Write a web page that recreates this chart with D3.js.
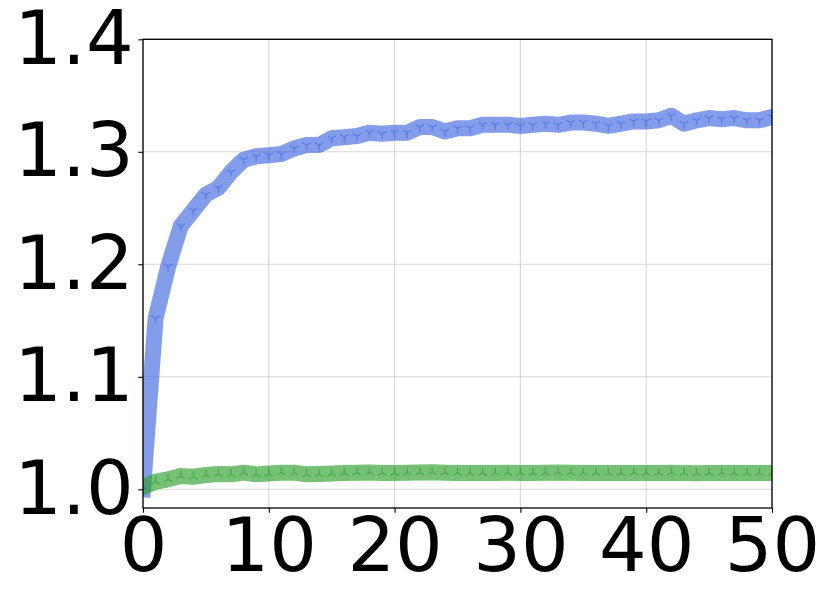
<!DOCTYPE html>
<html>
<head>
<meta charset="utf-8">
<script src="https://cdn.jsdelivr.net/npm/d3@7"></script>
<style>
  body { margin: 0; background: #fff; }
  svg { display: block; }
  text { font-family: "DejaVu Sans", sans-serif; }
</style>
</head>
<body>
<svg id="chart" width="831" height="603"></svg>
<script>
// ---- data ----
const xValues = d3.range(0, 51);
const blueValues = [
  1.000, 1.152, 1.198, 1.234, 1.248, 1.262, 1.268, 1.282, 1.293, 1.296,
  1.297, 1.298, 1.303, 1.306, 1.306, 1.312, 1.313, 1.314, 1.317, 1.316,
  1.317, 1.317, 1.322, 1.322, 1.318, 1.321, 1.321, 1.324, 1.324, 1.324,
  1.323, 1.324, 1.325, 1.324, 1.326, 1.326, 1.325, 1.323, 1.325, 1.327,
  1.327, 1.328, 1.332, 1.325, 1.328, 1.330, 1.329, 1.330, 1.328, 1.328,
  1.331
];
const greenValues = [
  1.002, 1.0068, 1.0089, 1.0118, 1.0112, 1.0127, 1.0136, 1.0133, 1.0148, 1.0133,
  1.0140, 1.0148, 1.0148, 1.0133, 1.0136, 1.0140, 1.0145, 1.0148, 1.0150, 1.0146,
  1.0145, 1.0148, 1.0150, 1.0152, 1.0148, 1.0146, 1.0144, 1.0145, 1.0146, 1.0148,
  1.0146, 1.0145, 1.0148, 1.0150, 1.0148, 1.0146, 1.0145, 1.0144, 1.0145, 1.0146,
  1.0145, 1.0146, 1.0148, 1.0144, 1.0143, 1.0145, 1.0146, 1.0145, 1.0144, 1.0145,
  1.0146
];
const xTicks = [0, 10, 20, 30, 40, 50];
const yTicks = [1.0, 1.1, 1.2, 1.3, 1.4];
const xDomain = [0, 50];
const yDomain = [0.9834, 1.4];

// ---- layout ----
const svg = d3.select("#chart");
const pL = 143, pR = 772, pT = 39.3, pB = 508;
const x = d3.scaleLinear().domain(xDomain).range([pL, pR]);
const y = d3.scaleLinear().domain(yDomain).range([pB, pT]);

svg.append("defs").append("clipPath").attr("id", "clip")
  .append("rect").attr("x", pL).attr("y", pT)
  .attr("width", pR - pL).attr("height", pB - pT);

// grid
const grid = svg.append("g");
grid.selectAll(".gx").data(xTicks).join("line")
  .attr("x1", d => x(d)).attr("x2", d => x(d))
  .attr("y1", pT).attr("y2", pB)
  .attr("stroke", "#b0b0b0").attr("stroke-opacity", 0.5).attr("stroke-width", 1.1);
grid.selectAll(".gy").data(yTicks).join("line")
  .attr("y1", d => y(d)).attr("y2", d => y(d))
  .attr("x1", pL).attr("x2", pR)
  .attr("stroke", "#b0b0b0").attr("stroke-opacity", 0.5).attr("stroke-width", 1.1);

// series
const plot = svg.append("g").attr("clip-path", "url(#clip)");
const series = [
  { values: blueValues, color: "#4169e1", marker: "down" },
  { values: greenValues, color: "#2ca02c", marker: "up" }
];
const line = d3.line().x((d, i) => x(xValues[i])).y(d => y(d));

series.forEach(s => {
  plot.append("path")
    .datum(s.values)
    .attr("d", line)
    .attr("fill", "none")
    .attr("stroke", s.color)
    .attr("stroke-opacity", 0.65)
    .attr("stroke-width", 16)
    .attr("stroke-linejoin", "round")
    .attr("stroke-linecap", "square");
});

series.forEach(s => {
  const r = 5;
  const arms = s.marker === "down"
    ? [[0, r], [-r * 0.866, -r * 0.5], [r * 0.866, -r * 0.5]]
    : [[0, -r], [-r * 0.866, r * 0.5], [r * 0.866, r * 0.5]];
  const g = plot.append("g");
  s.values.forEach((v, i) => {
    const cx = x(xValues[i]), cy = y(v);
    arms.forEach(a => {
      g.append("line")
        .attr("x1", cx).attr("y1", cy)
        .attr("x2", cx + a[0]).attr("y2", cy + a[1])
        .attr("stroke", s.color).attr("stroke-opacity", 0.55)
        .attr("stroke-width", 1.5);
    });
  });
});

// axes frame
svg.append("rect")
  .attr("x", pL).attr("y", pT)
  .attr("width", pR - pL).attr("height", pB - pT)
  .attr("fill", "none").attr("stroke", "#000").attr("stroke-width", 1.3);

// ticks and labels
const fs = 75;
const xAxis = d3.axisBottom(x).tickValues(xTicks).tickFormat(d3.format("d"))
  .tickSize(4.7).tickPadding(4.7);
const gx = svg.append("g").attr("transform", `translate(0,${pB})`).call(xAxis);
gx.select(".domain").remove();
gx.selectAll("line").attr("stroke", "#000").attr("stroke-width", 1.1);
gx.selectAll("text").attr("font-size", fs).attr("fill", "#000")
  .attr("font-family", "DejaVu Sans");

const yAxis = d3.axisLeft(y).tickValues(yTicks).tickFormat(d3.format(".1f"))
  .tickSize(4.7).tickPadding(4.7);
const gy = svg.append("g").attr("transform", `translate(${pL},0)`).call(yAxis);
gy.select(".domain").remove();
gy.selectAll("line").attr("stroke", "#000").attr("stroke-width", 1.1);
gy.selectAll("text").attr("font-size", fs).attr("fill", "#000")
  .attr("font-family", "DejaVu Sans");
</script>
</body>
</html>
